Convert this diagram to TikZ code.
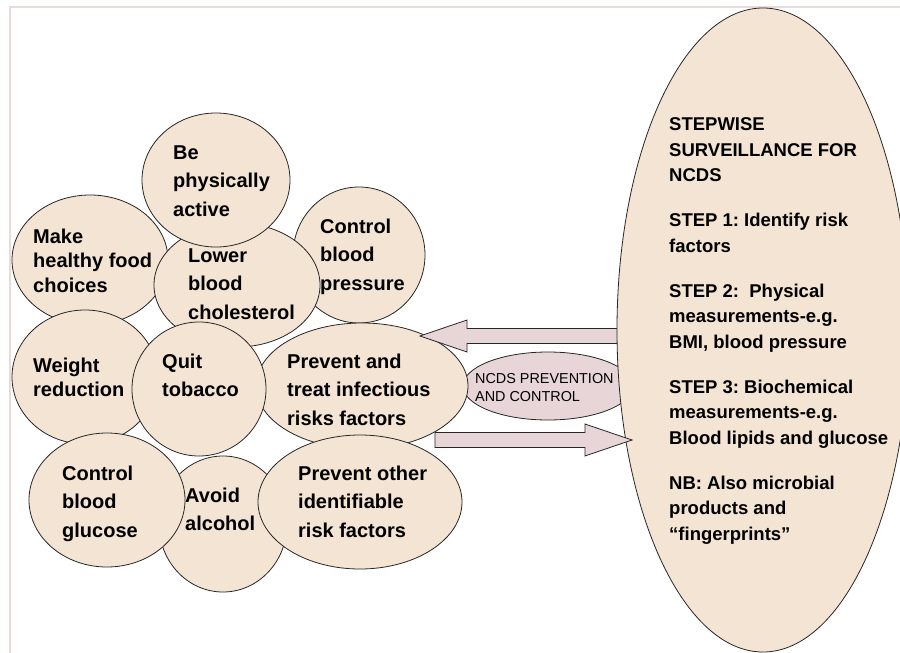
\documentclass[tikz,border=0pt]{standalone}
\usepackage{fontspec}
\setmainfont{Liberation Sans}
\usetikzlibrary{calc}
\frenchspacing

\begin{document}
\begin{tikzpicture}[x=1pt, y=-1pt]
    % -----------------------------
    % Parameters (tweak as needed)
    % -----------------------------
    \def\lw{0.8pt}      % outline width (uniform)
    \def\shaft{7.5}     % half thickness of a block arrow shaft
    \def\head{16}       % half width of a block arrow head
    \def\headLen{47}    % length of a block arrow head

    \definecolor{peach}{RGB}{243,228,211}
    \definecolor{rose}{RGB}{231,213,216}
    \definecolor{framecol}{RGB}{234,218,218}

    % Label fonts
    \newcommand{\bubblefont}{\bfseries\fontsize{20pt}{28.5pt}\selectfont}
    \newcommand{\tightfont}{\bfseries\fontsize{20pt}{24.5pt}\selectfont}
    \newcommand{\stepfont}{\bfseries\fontsize{18.5pt}{25.5pt}\selectfont}

    % -----------------------------
    % Styles and helpers
    % -----------------------------
    % (base anchor of a multi-line node = baseline of its LAST line)
    \tikzset{blob/.style={fill=peach, draw=black!85, line width=\lw},
             band/.style={fill=rose, draw=black!85, line width=\lw, line join=miter},
             bubtxt/.style={anchor=base west, inner sep=0pt, align=left, font=\bubblefont}}

    % One filled ellipse: centre x, centre y, x radius, y radius
    \newcommand{\bubble}[5][blob]{%
      \draw[#1] (#2,#3) ellipse [x radius=#4pt, y radius=#5pt];
    }

    \useasboundingbox (0,0) rectangle (900,653);
    \draw[framecol, line width=1.2pt] (10,653) -- (10,7) -- (900,7);

    % -----------------------------
    % Bubbles, back to front
    % -----------------------------
    \bubble{90}{260}{78}{65}     % healthy food
    \bubble{359}{255}{66}{68}    % blood pressure
    \bubble{237}{285}{83}{62}    % cholesterol
    \bubble{216}{180}{74}{67}    % physically active
    \bubble{85}{377}{73}{67}     % weight
    \bubble[band]{548}{386}{85}{34} % NCDS prevention
    \bubble{362}{386}{106}{63}   % infectious risks
    \bubble{199}{389}{67}{67}    % tobacco
    \bubble{223}{524}{64}{68}    % alcohol
    \bubble{107}{500}{78}{67}    % glucose
    \bubble{360}{502}{102}{67}   % other risks

    % -----------------------------
    % Block arrows and the stepwise ellipse
    % -----------------------------
    \coordinate (TopTip) at (420,336);
    \coordinate (BotTip) at (632,440);

    \draw[band] (TopTip) -- ++(\headLen,-\head) -- ++(0,\head-\shaft) -- ++(180,0)
      -- ++(0,2*\shaft) -- ++(-180,0) -- ++(0,\head-\shaft) -- cycle;

    \bubble{763}{330}{146}{322}  % stepwise surveillance

    \draw[band] (BotTip) -- ++(-\headLen,-\head) -- ++(0,\head-\shaft) -- ++(-150,0)
      -- ++(0,2*\shaft) -- ++(150,0) -- ++(0,\head-\shaft) -- cycle;

    % -----------------------------
    % Texts on top of everything
    % -----------------------------
    \node[bubtxt, font=\tightfont] (food) at (33,292) {Make\\healthy food\\choices};
    \node[bubtxt] (active) at (173,216) {Be\\physically\\active};
    \node[bubtxt] (chol) at (188,319) {Lower\\blood\\cholesterol};
    \node[bubtxt] (bp) at (320,290) {Control\\blood\\pressure};
    \node[bubtxt, font=\tightfont] (weight) at (33,396.5) {Weight\\reduction};
    \node[bubtxt] (tobacco) at (162,396.5) {Quit\\tobacco};
    \node[bubtxt] (infect) at (287,425) {Prevent and\\treat infectious\\risks factors};
    \node[bubtxt] (glucose) at (62,537) {Control\\blood\\glucose};
    \node[bubtxt] (alcohol) at (185,530.5) {Avoid\\alcohol};
    \node[bubtxt] (other) at (298,537) {Prevent other\\identifiable\\risk factors};

    \node[bubtxt, font=\fontsize{14.4pt}{18pt}\selectfont] (ncds) at (475,401)
      {NCDS PREVENTION\\AND CONTROL};

    \node[bubtxt, font=\stepfont] (steps) at (669,540)
      {STEPWISE\\SURVEILLANCE FOR\\NCDS\\[19.5pt]
       STEP 1: Identify risk\\factors\\[19.5pt]
       STEP 2:\ \ Physical\\measurements-e.g.\\BMI, blood pressure\\[19.5pt]
       STEP 3: Biochemical\\measurements-e.g.\\Blood lipids and glucose\\[19.5pt]
       NB: Also microbial\\products and\\“fingerprints”};

\end{tikzpicture}
\end{document}
